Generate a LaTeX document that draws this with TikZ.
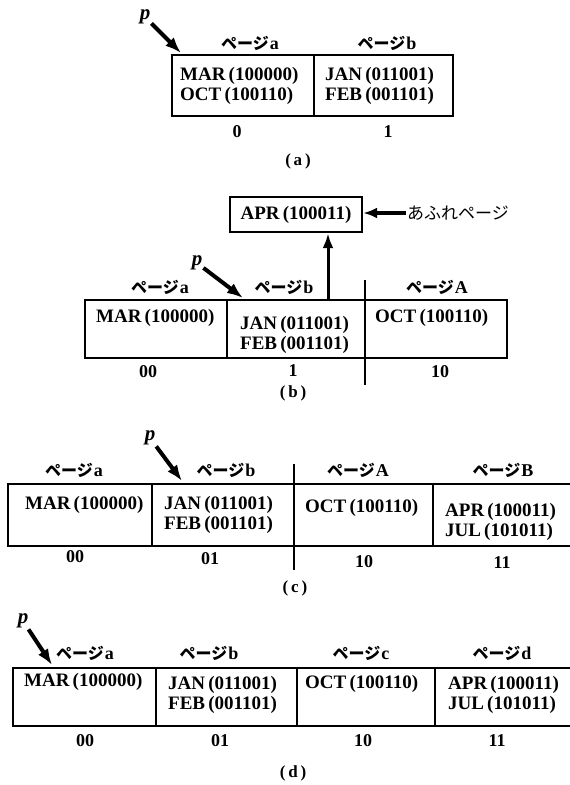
\documentclass[tikz,border=0pt]{standalone}
\usepackage{fontspec}
\setmainfont{Liberation Serif}
\newfontfamily\jpfont{Noto Sans CJK JP}
\usetikzlibrary{arrows.meta}
\newcommand{\recfont}{\fontsize{19}{20}\selectfont\bfseries}
\newcommand{\lblfont}{\fontsize{18}{18}\selectfont\bfseries}
\newcommand{\pg}[1]{{\jpfont\fontsize{16}{16}\selectfont ページ}\kern1pt#1}

\begin{document}
\begin{tikzpicture}[x=1pt, y=-1pt,
    pagebox/.style={draw, line width=2.4pt, inner sep=0pt},
    rec/.style={font=\recfont, inner sep=0pt, align=left, anchor=north west},
    pglbl/.style={font=\lblfont, inner sep=0pt},
    addr/.style={font=\fontsize{18}{18}\selectfont\bfseries, inner sep=0pt},
    figcap/.style={font=\fontsize{17}{17}\selectfont\bfseries, inner sep=0pt},
    plbl/.style={font=\fontsize{21}{21}\selectfont\bfseries\itshape, inner sep=1pt},
    ptr/.style={-{Latex[length=16pt,width=12pt]}, line width=4pt},
    uparrow/.style={-{Latex[length=15pt,width=11pt]}, line width=3pt},
    splitline/.style={line width=2.4pt}]
    \useasboundingbox (0,0) rectangle (570,785);

    \node[pagebox, minimum width=142pt, minimum height=61pt] (a0) at (243,85.5) {};
    \node[pagebox, minimum width=139pt, minimum height=61pt] (a1) at (383.5,85.5) {};
    \node[rec] (ra0) at (180,67) {MAR\,(100000)\\OCT\,(100110)};
    \node[rec] (ra1) at (325,67) {JAN\,(011001)\\FEB\,(001101)};
    \node[pglbl] (la0) at (250,43) {\pg{a}};
    \node[pglbl] (la1) at (387,43) {\pg{b}};
    \node[addr] (na0) at (237,132) {0};
    \node[addr] (na1) at (388,132) {1};
    \node[figcap] (capa) at (298,161) {(\,a\,)};
    \node[plbl] (pa) at (145,17) {p};
    \coordinate (pa-tip) at (181,53);
    \draw[ptr] (pa) -- (pa-tip);

    \node[pagebox, minimum width=132pt, minimum height=35pt, font=\recfont] (apr) at (296,214.5) {APR\,(100011)};
    \node[font=\jpfont\fontsize{17}{17}\selectfont, inner sep=1pt] (ovf) at (458,213) {あふれページ};
    \draw[ptr, line width=3.5pt, -{Latex[length=14pt,width=11pt]}] (ovf) -- (ovf -| apr.east);
    \node[pagebox, minimum width=142pt, minimum height=58pt] (b0) at (156,329) {};
    \node[pagebox, minimum width=138pt, minimum height=58pt] (b1) at (296,329) {};
    \node[pagebox, minimum width=142pt, minimum height=58pt] (b2) at (436,329) {};
    \coordinate (sb-top) at (365,280);
    \coordinate (sb-bot) at (365,385);
    \draw[splitline] (sb-top) -- (sb-bot);
    \coordinate (up) at (328,0);
    \draw[uparrow] (b1.north -| up) -- (apr.south -| up);
    \node[rec] (rb0) at (96,309) {MAR\,(100000)};
    \node[rec] (rb1) at (240,316) {JAN\,(011001)\\FEB\,(001101)};
    \node[rec] (rb2) at (375,309) {OCT\,(100110)};
    \node[pglbl] (lb0) at (160,287) {\pg{a}};
    \node[pglbl] (lb1) at (284,287) {\pg{b}};
    \node[pglbl] (lb2) at (437,287) {\pg{A}};
    \node[addr] (nb0) at (148,372) {00};
    \node[addr] (nb1) at (293,371) {1};
    \node[addr] (nb2) at (440,372) {10};
    \node[figcap] (capb) at (293,393) {(\,b\,)};
    \node[plbl] (pb) at (197,263) {p};
    \coordinate (pb-tip) at (243,298);
    \draw[ptr] (pb) -- (pb-tip);

    \node[pagebox, minimum width=144pt, minimum height=62pt] (c0) at (80,515) {};
    \node[pagebox, minimum width=142pt, minimum height=62pt] (c1) at (223,515) {};
    \node[pagebox, minimum width=139pt, minimum height=62pt] (c2) at (363.5,515) {};
    \node[pagebox, minimum width=142pt, minimum height=62pt] (c3) at (504,515) {};
    \coordinate (sc-top) at (294,464);
    \coordinate (sc-bot) at (294,570);
    \draw[splitline] (sc-top) -- (sc-bot);
    \node[rec] (rc0) at (25,496) {MAR\,(100000)};
    \node[rec] (rc1) at (164,496) {JAN\,(011001)\\FEB\,(001101)};
    \node[rec] (rc2) at (305,499) {OCT\,(100110)};
    \node[rec] (rc3) at (445,503) {APR\,(100011)\\JUL\,(101011)};
    \node[pglbl] (lc0) at (74,470) {\pg{a}};
    \node[pglbl] (lc1) at (226,470) {\pg{b}};
    \node[pglbl] (lc2) at (358,470) {\pg{A}};
    \node[pglbl] (lc3) at (503,470) {\pg{B}};
    \node[addr] (nc0) at (75,557) {00};
    \node[addr] (nc1) at (210,559) {01};
    \node[addr] (nc2) at (364,562) {10};
    \node[addr] (nc3) at (502,563) {11};
    \node[figcap] (capc) at (295,588) {(\,c\,)};
    \node[plbl] (pc) at (150,438) {p};
    \coordinate (pc-tip) at (182,481);
    \draw[ptr] (pc) -- (pc-tip);

    \node[pagebox, minimum width=143pt, minimum height=58pt] (d0) at (84.5,697) {};
    \node[pagebox, minimum width=141pt, minimum height=58pt] (d1) at (226.5,697) {};
    \node[pagebox, minimum width=138pt, minimum height=58pt] (d2) at (366,697) {};
    \node[pagebox, minimum width=142pt, minimum height=58pt] (d3) at (506,697) {};
    \node[rec] (rd0) at (24,673) {MAR\,(100000)};
    \node[rec] (rd1) at (168,676) {JAN\,(011001)\\FEB\,(001101)};
    \node[rec] (rd2) at (305,675) {OCT\,(100110)};
    \node[rec] (rd3) at (448,676) {APR\,(100011)\\JUL\,(101011)};
    \node[pglbl] (ld0) at (85,653) {\pg{a}};
    \node[pglbl] (ld1) at (209,653) {\pg{b}};
    \node[pglbl] (ld2) at (361,653) {\pg{c}};
    \node[pglbl] (ld3) at (502,653) {\pg{d}};
    \node[addr] (nd0) at (85,741) {00};
    \node[addr] (nd1) at (220,741) {01};
    \node[addr] (nd2) at (363,741) {10};
    \node[addr] (nd3) at (497,741) {11};
    \node[figcap] (capd) at (293,773) {(\,d\,)};
    \node[plbl] (pd) at (23,621) {p};
    \coordinate (pd-tip) at (52,665);
    \draw[ptr] (pd) -- (pd-tip);
\end{tikzpicture}
\end{document}
